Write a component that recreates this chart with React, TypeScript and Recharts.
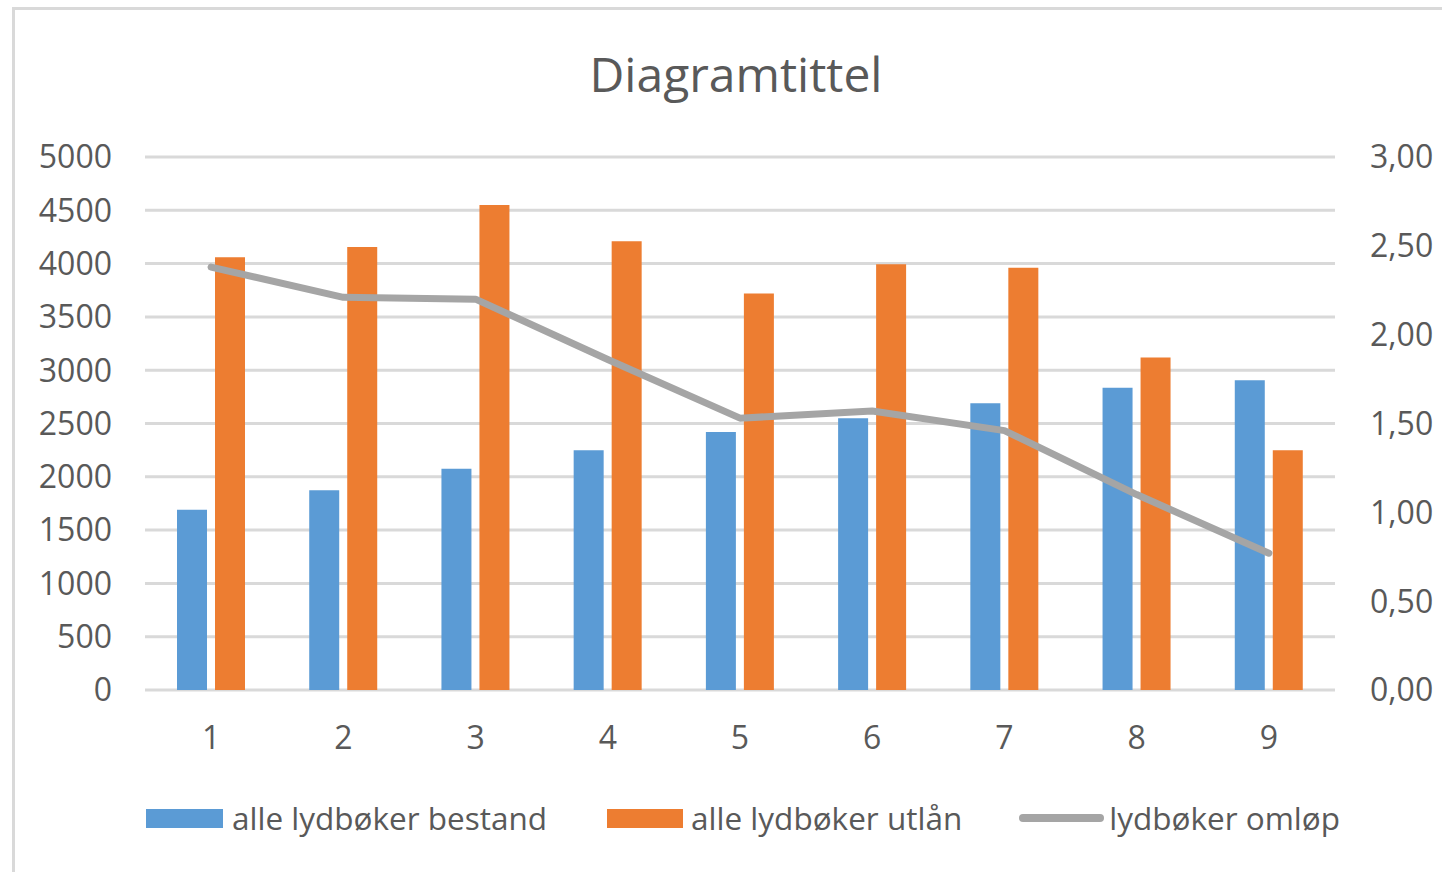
import { ComposedChart, Bar, Line, XAxis, YAxis, CartesianGrid } from "recharts"

const categories = ["1", "2", "3", "4", "5", "6", "7", "8", "9"]
const bestand = [1690, 1875, 2075, 2250, 2420, 2550, 2690, 2835, 2905]
const utlan = [4060, 4155, 4550, 4210, 3720, 3995, 3960, 3120, 2250]
const omlop = [2.38, 2.21, 2.2, 1.86, 1.53, 1.57, 1.46, 1.1, 0.77]

const leftTicks = [0, 500, 1000, 1500, 2000, 2500, 3000, 3500, 4000, 4500, 5000]
const rightTicks = [0, 0.5, 1, 1.5, 2, 2.5, 3]

const data = categories.map((name, i) => ({
  name,
  bestand: bestand[i],
  utlan: utlan[i],
  omlop: omlop[i],
}))

const FONT = "'Open Sans', sans-serif"
const TEXT = "#595959"
const GRID = "#d9d9d9"
const tickStyle = { fontSize: 32, fill: TEXT, fontFamily: FONT }

function LegendRow() {
  const label = { fontSize: 31.5, color: TEXT, fontFamily: FONT, whiteSpace: "nowrap" as const }
  return (
    <div style={{ position: "absolute", left: 146, top: 799, display: "flex", alignItems: "center", lineHeight: "38px" }}>
      <span style={{ width: 77, height: 19, background: "#5b9bd5", marginRight: 9 }} />
      <span style={{ ...label, marginRight: 60 }}>alle lydbøker bestand</span>
      <span style={{ width: 76, height: 19, background: "#ed7d31", marginRight: 8 }} />
      <span style={{ ...label, marginRight: 57 }}>alle lydbøker utlån</span>
      <span style={{ width: 85, height: 8, borderRadius: 4, background: "#a5a5a5", marginRight: 5 }} />
      <span style={label}>lydbøker omløp</span>
    </div>
  )
}

export default function App() {
  return (
    <div style={{ position: "absolute", left: 0, top: 0, width: 1442, height: 872, overflow: "hidden", background: "#fff" }}>
      <div style={{ position: "absolute", left: 12, top: 7, width: 1460, height: 900, border: `3px solid ${GRID}` }} />
      <div style={{ position: "absolute", left: 0, top: 44, width: 1472, textAlign: "center", fontFamily: FONT, fontSize: 48, color: TEXT, lineHeight: "60px" }}>
        Diagramtittel
      </div>
      <div style={{ position: "absolute", left: 0, top: 0 }}>
        <ComposedChart width={1442} height={872} data={data} margin={{ top: 157, right: 0, left: 0, bottom: 102 }} barSize={30} barGap={8}>
          <CartesianGrid yAxisId="left" vertical={false} stroke={GRID} strokeWidth={3} />
          <XAxis dataKey="name" axisLine={false} tickLine={false} tickSize={0} tickMargin={36} height={80} tick={tickStyle} />
          <YAxis yAxisId="left" orientation="left" width={145} domain={[0, 5000]} ticks={leftTicks} axisLine={false} tickLine={false} tickSize={0} tickMargin={33} tick={tickStyle} />
          <YAxis yAxisId="right" orientation="right" width={107} domain={[0, 3]} ticks={rightTicks} axisLine={false} tickLine={false} tickSize={0} tickMargin={35} tickFormatter={(v: number) => v.toFixed(2).replace(".", ",")} tick={tickStyle} />
          <Bar yAxisId="left" dataKey="bestand" name="alle lydbøker bestand" fill="#5b9bd5" isAnimationActive={false} />
          <Bar yAxisId="left" dataKey="utlan" name="alle lydbøker utlån" fill="#ed7d31" isAnimationActive={false} />
          <Line yAxisId="right" dataKey="omlop" name="lydbøker omløp" stroke="#a5a5a5" strokeWidth={7} strokeLinecap="round" strokeLinejoin="round" dot={false} activeDot={false} isAnimationActive={false} />
        </ComposedChart>
      </div>
      <LegendRow />
    </div>
  )
}
